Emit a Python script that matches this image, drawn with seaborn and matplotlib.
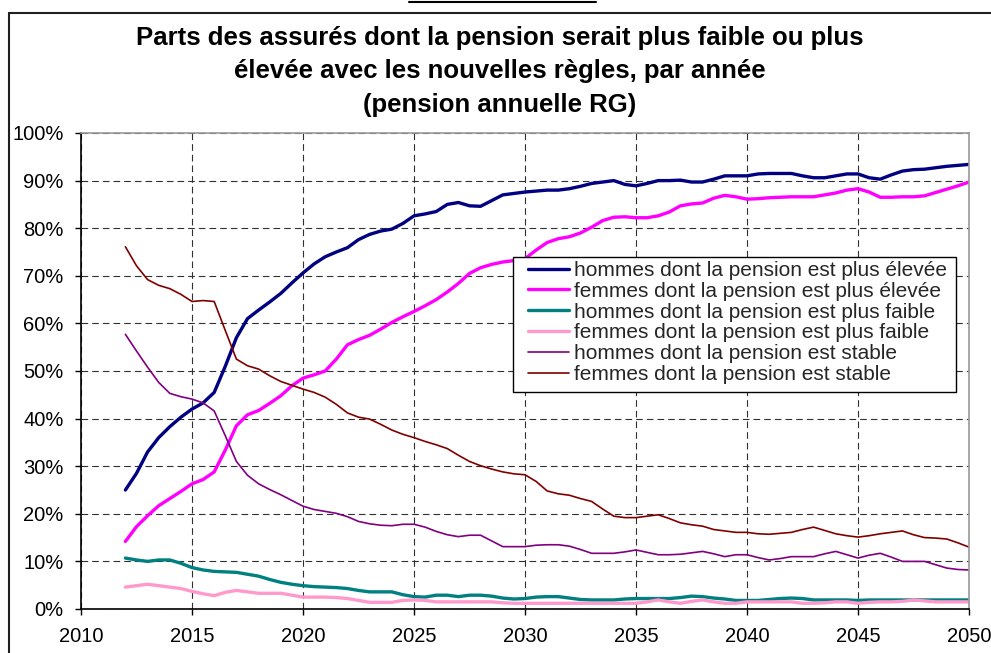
import numpy as np
import pandas as pd
import matplotlib
matplotlib.use("Agg")
import matplotlib.pyplot as plt
from matplotlib.lines import Line2D
from matplotlib.patches import Rectangle
from matplotlib.ticker import PercentFormatter, MultipleLocator
import seaborn as sns

annees = np.arange(2012, 2050.01, 0.5)

hommes_elevee = [25, 28.5, 33, 36, 38.3, 40.3, 42, 43.3, 45.5, 51, 57, 61, 62.8, 64.5, 66.3, 68.5,
                 70.6, 72.5, 74, 75, 75.9, 77.6, 78.7, 79.4, 79.8, 81, 82.6, 83, 83.5, 85, 85.4, 84.7,
                 84.6, 85.8, 87, 87.3, 87.6, 87.8, 88, 88, 88.3, 88.8, 89.4, 89.7, 90, 89.2, 88.9, 89.4,
                 90, 90, 90.1, 89.7, 89.7, 90.3, 91, 91, 91, 91.4, 91.5, 91.5, 91.5, 91, 90.6, 90.6,
                 91, 91.4, 91.4, 90.6, 90.3, 91.2, 92, 92.3, 92.4, 92.7, 93, 93.2, 93.4]
femmes_elevee = [14.2, 17.3, 19.6, 21.7, 23.2, 24.7, 26.3, 27.2, 28.8, 33.4, 38.5, 40.8, 41.7, 43.2,
                 44.8, 46.9, 48.5, 49.2, 50, 52.5, 55.5, 56.6, 57.5, 58.8, 60.2, 61.4, 62.5, 63.7, 65,
                 66.6, 68.4, 70.5, 71.7, 72.4, 72.9, 73.2, 73.6, 75.4, 77, 77.8, 78.2, 79, 80.2, 81.6,
                 82.3, 82.4, 82.2, 82.2, 82.6, 83.4, 84.7, 85.1, 85.3, 86.3, 86.9, 86.6, 86.1, 86.2,
                 86.4, 86.5, 86.6, 86.6, 86.6, 87, 87.4, 88, 88.3, 87.6, 86.5, 86.5, 86.6, 86.6, 86.8,
                 87.5, 88.2, 88.9, 89.7]
hommes_faible = [10.7, 10.3, 10.0, 10.3, 10.3, 9.6, 8.7, 8.2, 7.9, 7.8, 7.7, 7.3, 6.9, 6.2, 5.6, 5.2,
                 4.9, 4.7, 4.6, 4.5, 4.3, 3.9, 3.6, 3.6, 3.6, 3.0, 2.6, 2.5, 2.9, 2.9, 2.6, 2.9, 2.9,
                 2.7, 2.3, 2.1, 2.2, 2.5, 2.6, 2.6, 2.3, 2.0, 1.9, 1.9, 1.9, 2.1, 2.2, 2.2, 2.2, 2.2,
                 2.4, 2.7, 2.6, 2.3, 2.1, 1.8, 1.8, 1.8, 2.0, 2.2, 2.3, 2.2, 1.9, 1.9, 1.9, 1.9, 1.8,
                 1.9, 1.9, 1.9, 1.9, 1.9, 1.9, 1.9, 1.9, 1.9, 1.9]
femmes_faible = [4.6, 4.9, 5.2, 4.9, 4.6, 4.3, 3.7, 3.2, 2.8, 3.5, 3.9, 3.6, 3.3, 3.3, 3.3, 2.9, 2.5,
                 2.5, 2.5, 2.4, 2.2, 1.8, 1.4, 1.4, 1.4, 1.8, 1.9, 1.8, 1.5, 1.5, 1.5, 1.5, 1.5, 1.5,
                 1.3, 1.2, 1.2, 1.2, 1.2, 1.2, 1.2, 1.2, 1.2, 1.2, 1.2, 1.2, 1.2, 1.5, 1.9, 1.5, 1.2,
                 1.6, 1.9, 1.5, 1.2, 1.2, 1.5, 1.5, 1.5, 1.5, 1.5, 1.2, 1.2, 1.3, 1.5, 1.5, 1.2, 1.4,
                 1.5, 1.5, 1.6, 1.9, 1.7, 1.5, 1.5, 1.5, 1.5]
hommes_stable = [57.7, 54.2, 50.8, 47.6, 45.3, 44.6, 44.1, 43.3, 41.6, 36.4, 31, 28.1, 26.3, 25.1, 24,
                 22.8, 21.6, 20.9, 20.5, 20.1, 19.4, 18.4, 17.9, 17.6, 17.5, 17.8, 17.8, 17.2, 16.3,
                 15.6, 15.2, 15.5, 15.5, 14.3, 13.1, 13.1, 13.1, 13.4, 13.5, 13.5, 13.2, 12.5, 11.7,
                 11.7, 11.7, 12.0, 12.4, 11.9, 11.4, 11.4, 11.5, 11.8, 12.1, 11.6, 11.0, 11.4, 11.4,
                 10.8, 10.3, 10.6, 11.0, 11.0, 11.0, 11.6, 12.1, 11.4, 10.7, 11.3, 11.7, 10.9, 10.0,
                 10.0, 10.0, 9.3, 8.6, 8.3, 8.2]
femmes_stable = [76.1, 72.1, 69.2, 68, 67.3, 66.1, 64.6, 64.8, 64.6, 58.5, 52.5, 51.1, 50.4, 49, 47.8,
                 47, 46.2, 45.5, 44.5, 43, 41.2, 40.3, 39.9, 38.8, 37.6, 36.7, 36, 35.2, 34.5, 33.7,
                 32.3, 31, 30.1, 29.4, 28.8, 28.4, 28.2, 26.8, 24.8, 24.2, 23.9, 23.2, 22.6, 21, 19.5,
                 19.2, 19.2, 19.5, 19.8, 19, 18.1, 17.7, 17.4, 16.7, 16.4, 16.1, 16.1, 15.8, 15.7,
                 15.9, 16.1, 16.7, 17.2, 16.5, 15.8, 15.4, 15.1, 15.4, 15.8, 16.1, 16.4, 15.6, 15,
                 14.9, 14.7, 13.9, 13]

labels = ["hommes dont la pension est plus élevée",
          "femmes dont la pension est plus élevée",
          "hommes dont la pension est plus faible",
          "femmes dont la pension est plus faible",
          "hommes dont la pension est stable",
          "femmes dont la pension est stable"]
series = [hommes_elevee, femmes_elevee, hommes_faible, femmes_faible, hommes_stable, femmes_stable]
colors = ["#000080", "#FF00FF", "#008080", "#FF99CC", "#800080", "#800000"]
widths = [2.4, 2.4, 2.4, 2.4, 1.2, 1.2]

title_lines = ["Parts des assurés dont la pension serait plus faible ou plus",
               "élevée avec les nouvelles règles, par année",
               "(pension annuelle RG)"]

sns.set_style("white")
plt.rcParams["font.family"] = ["Liberation Sans", "DejaVu Sans"]

W, H = 991, 653
fig = plt.figure(figsize=(W / 100, H / 100), dpi=100)
AX_L, AX_B, AX_W, AX_H = 81, 44, 888, 476
ax = fig.add_axes([AX_L / W, AX_B / H, AX_W / W, AX_H / H])

for vals, lab, col, lw in zip(series, labels, colors, widths):
    sns.lineplot(x=annees, y=vals, ax=ax, color=col, linewidth=lw, label=lab)

ax.set_xlim(2010, 2050)
ax.set_ylim(0, 100)
ax.xaxis.set_major_locator(MultipleLocator(5))
ax.yaxis.set_major_locator(MultipleLocator(10))
ax.yaxis.set_major_formatter(PercentFormatter(decimals=0))
ax.set_xlabel("")
ax.set_ylabel("")

ax.grid(True, which="major", color="#303030", linestyle=(0, (6, 3.6)), linewidth=0.8)
ax.tick_params(axis="both", which="major", direction="out", length=4.3, width=1,
               color="black", labelsize=14.5, labelcolor="black")
ax.tick_params(axis="y", pad=8.2, left=True)
ax.tick_params(axis="x", pad=8.6, bottom=True)

for side in ["left", "bottom"]:
    ax.spines[side].set_color("black")
    ax.spines[side].set_linewidth(1.2)
for side in ["top", "right"]:
    ax.spines[side].set_color("#9a9a9a")
    ax.spines[side].set_linewidth(1.2)


def px_to_axes(x, y):
    return (x - AX_L) / AX_W, (H - AX_B - y) / AX_H


# legend frame drawn explicitly (Excel-like padding)
fx0, fy1 = px_to_axes(513, 257)
fx1, fy0 = px_to_axes(956, 392)
frame = Rectangle((fx0, fy0), fx1 - fx0, fy1 - fy0, transform=ax.transAxes,
                  facecolor="white", edgecolor="black", linewidth=1.0, zorder=5)
ax.add_patch(frame)

lx, ly = px_to_axes(528, 261)
leg = ax.legend(loc="upper left", bbox_to_anchor=(lx, ly),
                borderaxespad=0, fontsize=15, frameon=False,
                handlelength=1.95, handletextpad=0.25, labelspacing=0.085, borderpad=0.0)
leg.set_zorder(6)

baselines = [45, 78, 112]
for line, yb in zip(title_lines, baselines):
    fig.text(500 / W, 1 - yb / H, line, ha="center", va="baseline",
             fontsize=18.5, fontweight="bold", color="black")

# outer frame of the embedded chart
fig.add_artist(Line2D([9 / W, 9 / W], [0, 1 - 12.5 / H], transform=fig.transFigure,
                      color="#202020", linewidth=1.5))
fig.add_artist(Line2D([9 / W, 1], [1 - 12.5 / H, 1 - 12.5 / H], transform=fig.transFigure,
                      color="#202020", linewidth=1.5))
# fragment of underline from document above
fig.add_artist(Line2D([409 / W, 596 / W], [1 - 2 / H, 1 - 2 / H], transform=fig.transFigure,
                      color="black", linewidth=1.5))

fig.savefig("out.png", dpi=100)
